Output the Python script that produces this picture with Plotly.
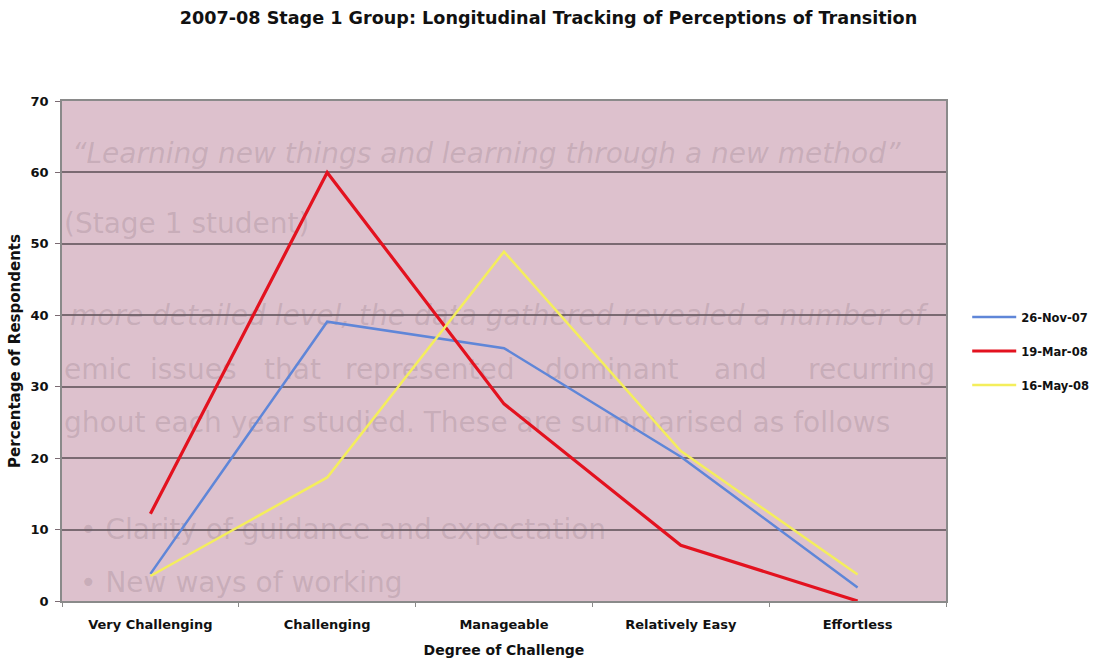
import plotly.graph_objects as go

# Survey categories and percentages of respondents for each tracking date
categories = ["Very Challenging", "Challenging", "Manageable", "Relatively Easy", "Effortless"]
series_names = ["26-Nov-07", "19-Mar-08", "16-May-08"]
nov_07 = [3.8, 39.1, 35.4, 20.2, 1.9]
mar_08 = [12.2, 60.0, 27.6, 7.8, 0.0]
may_08 = [3.5, 17.3, 48.9, 21.0, 3.7]
y_ticks = [0, 10, 20, 30, 40, 50, 60, 70]

series_values = [nov_07, mar_08, may_08]
series_colors = ["#5f86d8", "#e3121f", "#f4ee5c"]
series_widths = [2.5, 3.2, 2.5]

FONT = "DejaVu Sans"
GRID = "#7a6a72"
BG = "#ddc1cd"
GHOST = "rgba(110,90,100,0.20)"

fig = go.Figure()

# Faint show-through text of the printed page behind the plot area
ghost_lines = [
    ("\u201cLearning new things and learning through a new method\u201d", 72, 156, "italic"),
    ("(Stage 1 student)", 64, 226, "normal"),
    ("more detailed level, the data gathered revealed a number of", 70, 318, "italic"),
    ("emic", 64, 372, "normal"),
    ("issues", 150, 372, "normal"),
    ("that", 264, 372, "normal"),
    ("represented", 345, 372, "normal"),
    ("dominant", 545, 372, "normal"),
    ("and", 714, 372, "normal"),
    ("recurring", 808, 372, "normal"),
    ("ghout each year studied. These are summarised as follows", 64, 425, "normal"),
    ("\u2022 Clarity of guidance and expectation", 80, 532, "normal"),
    ("\u2022 New ways of working", 80, 585, "normal"),
]
for txt, gx, gy, style in ghost_lines:
    fig.add_trace(go.Scatter(
        x=[gx], y=[gy], mode="text", text=[txt], textposition="middle right",
        textfont=dict(family="DejaVu Sans", size=28, color=GHOST, style=style, weight="normal"),
        cliponaxis=True, showlegend=False, hoverinfo="skip",
        xaxis="x", yaxis="y",
    ))

# Data lines
for name, vals, col, w in zip(series_names, series_values, series_colors, series_widths):
    fig.add_trace(go.Scatter(
        x=categories, y=vals, mode="lines", name=name,
        line=dict(color=col, width=w), legendgroup=name,
        xaxis="x2", yaxis="y2",
    ))

fig.update_layout(
    width=1097, height=663,
    margin=dict(l=62, r=151, t=101, b=62, autoexpand=False),
    paper_bgcolor="white",
    plot_bgcolor=BG,
    font=dict(family=FONT, size=12, color="#111111", weight="bold"),
    title=dict(
        text="2007-08 Stage 1 Group: Longitudinal Tracking of Perceptions of Transition",
        x=0.5, xref="container", xanchor="center",
        y=1 - 18 / 663, yref="container", yanchor="middle",
        font=dict(family=FONT, size=17.6, color="#111111", weight="bold"),
    ),
    xaxis=dict(range=[62, 946], visible=False, fixedrange=True),
    yaxis=dict(range=[601, 101], visible=False, fixedrange=True),
    xaxis2=dict(
        type="category", overlaying="x", anchor="y2", side="bottom",
        categoryorder="array", categoryarray=categories,
        range=[-0.5, len(categories) - 0.5],
        showline=True, linecolor="#8a8a8a", linewidth=1.5, mirror=True,
        ticks="outside", tickson="boundaries", ticklen=4, tickcolor="#8a8a8a",
        showgrid=False, ticklabelstandoff=11,
        tickfont=dict(family=FONT, size=13, color="#111111", weight="bold"),
        title=dict(text="Degree of Challenge", standoff=14,
                   font=dict(family=FONT, size=14, color="#111111", weight="bold")),
    ),
    yaxis2=dict(
        overlaying="y", anchor="x2", side="left",
        range=[0, 70], tickvals=y_ticks,
        showline=True, linecolor="#8a8a8a", linewidth=1.5, mirror=True,
        ticks="outside", ticklen=5, tickcolor=GRID,
        showgrid=True, gridcolor=GRID, gridwidth=1.5,
        zeroline=False, ticklabelstandoff=4,
        tickfont=dict(family=FONT, size=13, color="#111111", weight="bold"),
        title=dict(text="Percentage of Respondents", standoff=6,
                   font=dict(family=FONT, size=15, color="#111111", weight="bold")),
    ),
    legend=dict(
        x=1.024, xanchor="left", y=0.5, yanchor="middle",
        font=dict(family=FONT, size=11.5, color="#111111", weight="bold"),
        tracegroupgap=15, itemwidth=44, bgcolor="rgba(0,0,0,0)",
    ),
    showlegend=True,
)

fig.write_html("out.html")
